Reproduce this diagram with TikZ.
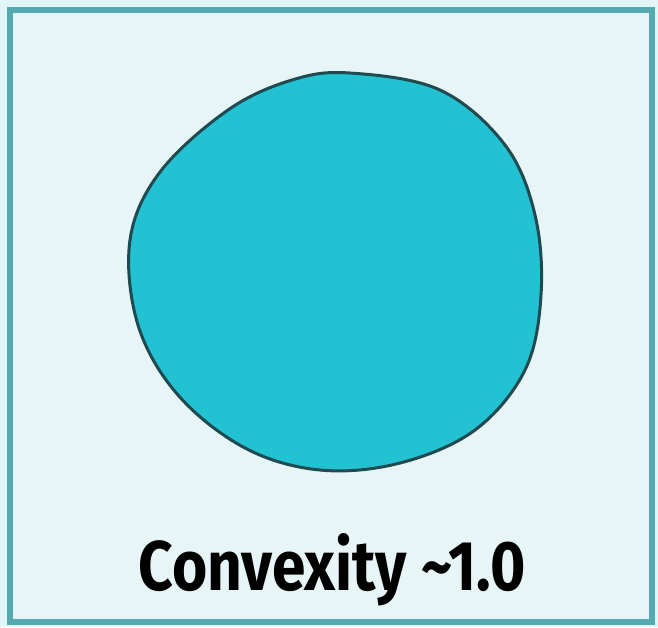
\documentclass[tikz,border=0pt]{standalone}
\usepackage{fontspec}
\setmainfont{Fira Sans}
\newfontfamily\labelfont[FakeStretch=0.86]{Fira Sans}
\definecolor{frameEdge}{HTML}{55AAB1}
\definecolor{frameFill}{HTML}{E7F5F6}
\definecolor{pageFill}{HTML}{E3F6F7}
\definecolor{blobFill}{HTML}{22C2D2}
\definecolor{blobEdge}{HTML}{1E4A50}

\begin{document}
\begin{tikzpicture}[x=0.02cm,y=-0.02cm]
      \tikzstyle{caption}=[font=\labelfont\bfseries\fontsize{40}{46}\selectfont,text=black,
                           inner sep=0pt,anchor=base]
      \fill[pageFill] (0,0) rectangle (658,627);
      \useasboundingbox (0,0) rectangle (658,627);
      \draw[frameEdge,line width=1.1mm,fill=frameFill] (10,10) rectangle (652,622);

      % the blob
      \draw[blobEdge,line width=0.6mm,fill=blobFill] plot[smooth cycle,tension=0.6] coordinates {
        (350,73) (440,90) (505,145) (535,215) (541,295) (525,370) (475,430)
        (400,463) (320,470) (245,448) (178,395) (138,325) (130,240) (160,172)
        (228,110) (292,80)};

      \node[caption] (cap) at (332,590) {Convexity \textasciitilde1.0};
    \end{tikzpicture}
\end{document}
